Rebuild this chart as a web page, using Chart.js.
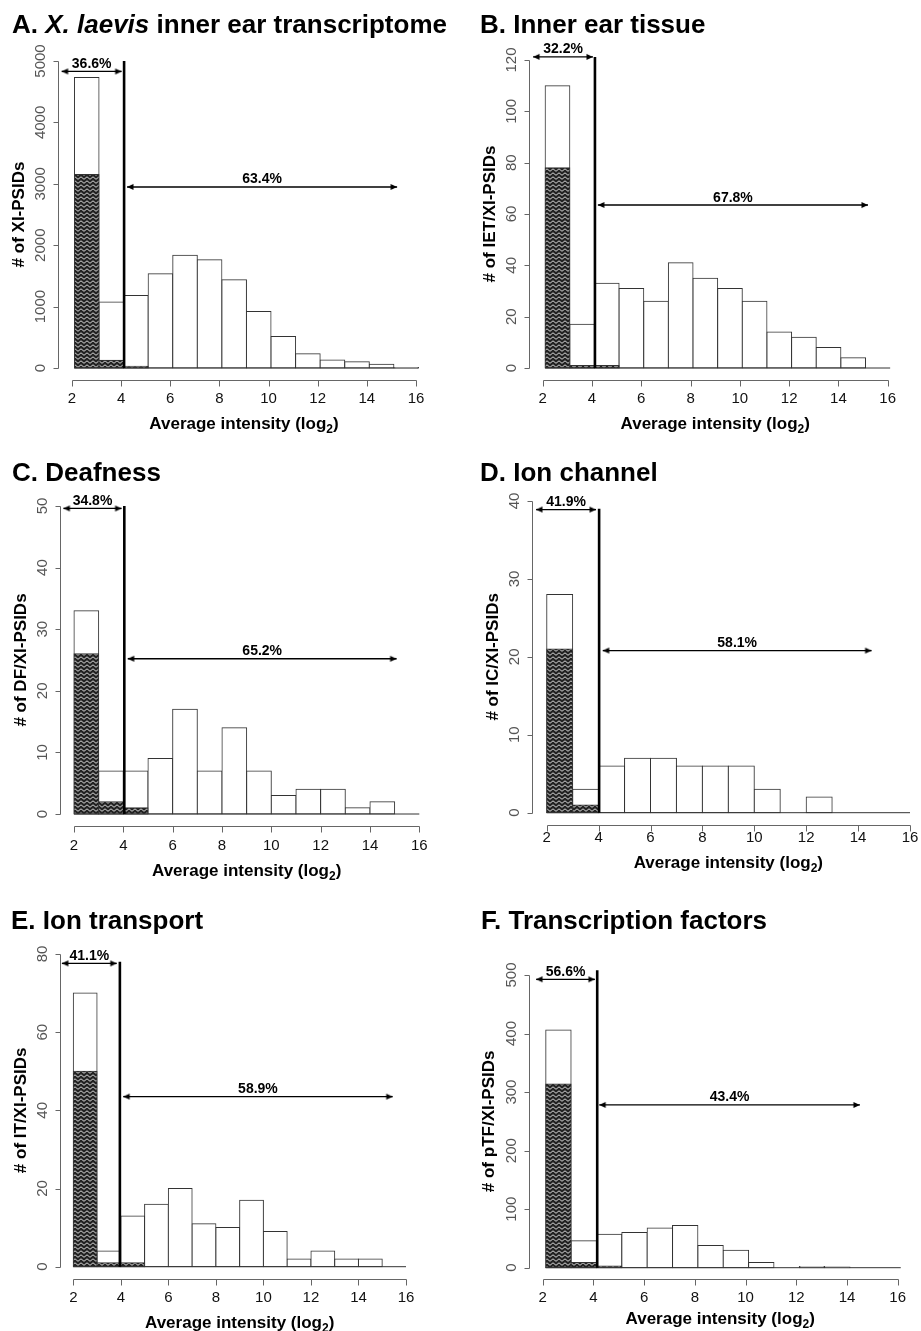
<!DOCTYPE html>
<html><head><meta charset="utf-8">
<script src="https://cdn.jsdelivr.net/npm/chart.js@4"></script>
<style>
html,body{margin:0;padding:0;background:#fff;overflow:hidden;width:921px;height:1331px;position:relative}
canvas{position:absolute}
</style></head><body>
<canvas id="cA"></canvas><canvas id="cB"></canvas>
<canvas id="cC"></canvas><canvas id="cD"></canvas>
<canvas id="cE"></canvas><canvas id="cF"></canvas>
<script>
// ---------- data ----------
const bins = [2,3,4,5,6,7,8,9,10,11,12,13,14,15];   // lower bin edges (log2 intensity)
const xTicks = [2,4,6,8,10,12,14,16];

const titleA = [["A. ",0],["X. laevis",1],[" inner ear transcriptome",0]];
const ylabA = "# of XI-PSIDs";
const totalA = [4730,1075,1180,1535,1838,1762,1437,922,515,233,130,103,60,10];
const hatchA = [3150,125,27,0,0,0,0,0,0,0,0,0,0,0];
const yTicksA = [0,1000,2000,3000,4000,5000];
const pctA = ["36.6%","63.4%"];
const cutA = [4.12,5000];
const arrowsA = [[1.58,4.02,4830],[4.24,15.23,2948]];
const shiftA = 0.1;

const titleB = [["B. Inner ear tissue",0]];
const ylabB = "# of IET/XI-PSIDs";
const totalB = [110,17,33,31,26,41,35,31,26,14,12,8,4,0];
const hatchB = [78,1,1,0,0,0,0,0,0,0,0,0,0,0];
const yTicksB = [0,20,40,60,80,100,120];
const pctB = ["32.2%","67.8%"];
const cutB = [4.12,121.2];
const arrowsB = [[1.61,4.04,121.2],[4.24,15.2,63.5]];
const shiftB = 0.1;

const titleC = [["C. Deafness",0]];
const ylabC = "# of DF/XI-PSIDs";
const totalC = [33,7,7,9,17,7,14,7,3,4,4,1,2,0];
const hatchC = [26,2,1,0,0,0,0,0,0,0,0,0,0,0];
const yTicksC = [0,10,20,30,40,50];
const pctC = ["34.8%","65.2%"];
const cutC = [4.04,50];
const arrowsC = [[1.57,3.93,49.6],[4.18,15.08,25.2]];
const shiftC = 0;

const titleD = [["D. Ion channel",0]];
const ylabD = "# of IC/XI-PSIDs";
const totalD = [28,3,6,7,7,6,6,6,3,0,2,0,0,0];
const hatchD = [21,1,0,0,0,0,0,0,0,0,0,0,0,0];
const yTicksD = [0,10,20,30,40];
const pctD = ["41.9%","58.1%"];
const cutD = [4.02,39];
const arrowsD = [[1.59,3.9,38.9],[4.16,14.52,20.8]];
const shiftD = 0;

const titleE = [["E. Ion transport",0]];
const ylabE = "# of IT/XI-PSIDs";
const totalE = [70,4,13,16,20,11,10,17,9,2,4,2,2,0];
const hatchE = [50,1,1,0,0,0,0,0,0,0,0,0,0,0];
const yTicksE = [0,20,40,60,80];
const pctE = ["41.1%","58.9%"];
const cutE = [3.96,78];
const arrowsE = [[1.52,3.83,77.6],[4.1,15.44,43.5]];
const shiftE = 0;

const titleF = [["F. Transcription factors",0]];
const ylabF = "# of pTF/XI-PSIDs";
const totalF = [406,46,57,60,68,72,38,30,9,0,2,1,0,0];
const hatchF = [314,9,3,0,0,0,0,0,0,0,0,0,0,0];
const yTicksF = [0,100,200,300,400,500];
const pctF = ["56.6%","43.4%"];
const cutF = [4.15,508];
const arrowsF = [[1.74,4.06,492.6],[4.23,14.51,278]];
const shiftF = 0.12;

// ---------- layout (pixels) ----------
const FONT = '"Liberation Sans", Arial, Helvetica, sans-serif';
const panels = [
 {id:'cA',left:0,top:0,w:460,h:440,tx:12,ty:32.5,x2:72,x16:416,y0:368,yM:61,xLab:19,xTit:43,
  title:titleA,ylab:ylabA,total:totalA,hatch:hatchA,yTicks:yTicksA,pct:pctA,cut:cutA,arrows:arrowsA,shift:shiftA},
 {id:'cB',left:460,top:0,w:470,h:440,tx:480,ty:32.5,x2:542.7,x16:887.7,y0:368,yM:60,xLab:19,xTit:43,
  title:titleB,ylab:ylabB,total:totalB,hatch:hatchB,yTicks:yTicksB,pct:pctB,cut:cutB,arrows:arrowsB,shift:shiftB},
 {id:'cC',left:0,top:440,w:460,h:450,tx:12,ty:480.5,x2:74,x16:419.3,y0:814,yM:506,xLab:19.7,xTit:43.7,
  title:titleC,ylab:ylabC,total:totalC,hatch:hatchC,yTicks:yTicksC,pct:pctC,cut:cutC,arrows:arrowsC,shift:shiftC},
 {id:'cD',left:460,top:440,w:470,h:450,tx:480,ty:480.5,x2:546.7,x16:910,y0:812.7,yM:501,xLab:13,xTit:37,
  title:titleD,ylab:ylabD,total:totalD,hatch:hatchD,yTicks:yTicksD,pct:pctD,cut:cutD,arrows:arrowsD,shift:shiftD},
 {id:'cE',left:0,top:890,w:460,h:441,tx:11,ty:929,x2:73.3,x16:406,y0:1266.7,yM:954,xLab:19,xTit:43,
  title:titleE,ylab:ylabE,total:totalE,hatch:hatchE,yTicks:yTicksE,pct:pctE,cut:cutE,arrows:arrowsE,shift:shiftE},
 {id:'cF',left:460,top:890,w:470,h:441,tx:481,ty:929,x2:542.7,x16:897.7,y0:1267.7,yM:975,xLab:18.6,xTit:38.6,
  title:titleF,ylab:ylabF,total:totalF,hatch:hatchF,yTicks:yTicksF,pct:pctF,cut:cutF,arrows:arrowsF,shift:shiftF}
];

function makeTile(){
  const c=document.createElement('canvas'); c.width=6; c.height=4;
  const g=c.getContext('2d');
  g.fillStyle='#222'; g.fillRect(0,0,6,4);
  g.strokeStyle='rgba(255,255,255,0.9)'; g.lineWidth=0.9;
  g.beginPath(); g.moveTo(0,3.3); g.lineTo(3,0.8); g.lineTo(6,3.3); g.stroke();
  return c;
}
function makeHead(){
  const c=document.createElement('canvas'); c.width=16; c.height=8;
  const g=c.getContext('2d'); g.fillStyle='#000';
  g.beginPath(); g.moveTo(8,4); g.lineTo(1.5,1); g.lineTo(1.5,7); g.closePath(); g.fill();
  return c;
}
const tile = makeTile();
const head = makeHead();

function axesPlugin(p){
  const ymax = p.yTicks[p.yTicks.length-1];
  return {id:'raxes', afterDraw(chart){
    const g=chart.ctx, xs=chart.scales.x, ys=chart.scales.y, a=chart.chartArea;
    g.save();
    // panel title
    g.fillStyle='#000'; g.textAlign='left'; g.textBaseline='alphabetic';
    let tx=p.tx-p.left;
    for(const [t,it] of p.title){
      g.font=(it?'italic ':'')+'bold 26px '+FONT;
      g.fillText(t,tx,p.ty-p.top); tx+=g.measureText(t).width;
    }
    // axes lines + ticks
    g.strokeStyle='#666'; g.lineWidth=1; g.beginPath();
    const yb=Math.round(a.bottom)+0.5;
    g.moveTo(Math.round(xs.getPixelForValue(xTicks[0]))+0.5,yb);
    g.lineTo(Math.round(xs.getPixelForValue(xTicks[xTicks.length-1]))+0.5,yb);
    for(const t of xTicks){const px=Math.round(xs.getPixelForValue(t))+0.5; g.moveTo(px,yb); g.lineTo(px,yb+6);}
    const xl=Math.round(a.left)+0.5;
    g.moveTo(xl,Math.round(ys.getPixelForValue(p.yTicks[0]))+0.5);
    g.lineTo(xl,Math.round(ys.getPixelForValue(ymax))+0.5);
    for(const t of p.yTicks){const py=Math.round(ys.getPixelForValue(t))+0.5; g.moveTo(xl,py); g.lineTo(xl-5,py);}
    g.stroke();
    // x tick labels
    g.font='15px '+FONT; g.fillStyle='#111'; g.textAlign='center'; g.textBaseline='middle';
    for(const t of xTicks) g.fillText(String(t), xs.getPixelForValue(t), a.bottom+p.xLab);
    // y tick labels (rotated)
    g.fillStyle='#555';
    for(const t of p.yTicks){
      g.save(); g.translate(a.left-17, ys.getPixelForValue(t)); g.rotate(-Math.PI/2);
      g.fillText(String(t),0,0); g.restore();
    }
    // x title with subscript
    g.fillStyle='#000'; g.textAlign='left'; g.textBaseline='alphabetic';
    const s1='Average intensity (log', s2='2', s3=')';
    g.font='bold 17px '+FONT; const w1=g.measureText(s1).width, w3=g.measureText(s3).width;
    g.font='bold 12px '+FONT; const w2=g.measureText(s2).width;
    const cx=(xs.getPixelForValue(2)+xs.getPixelForValue(16))/2;
    let x0=cx-(w1+w2+w3)/2; const bl=a.bottom+p.xTit+6;
    g.font='bold 17px '+FONT; g.fillText(s1,x0,bl);
    g.font='bold 12px '+FONT; g.fillText(s2,x0+w1,bl+4);
    g.font='bold 17px '+FONT; g.fillText(s3,x0+w1+w2,bl);
    // y title
    g.textAlign='center'; g.textBaseline='middle';
    g.save(); g.translate(a.left-39, ys.getPixelForValue(ymax/2)); g.rotate(-Math.PI/2);
    g.fillText(p.ylab,0,0); g.restore();
    // percentage labels
    g.font='bold 14px '+FONT; g.textBaseline='alphabetic';
    p.arrows.forEach((ar,i)=>{
      const c=(xs.getPixelForValue(ar[0])+xs.getPixelForValue(ar[1]))/2;
      g.fillText(p.pct[i], c, ys.getPixelForValue(ar[2])-3.5);
    });
    g.restore();
  }};
}

function makeChart(p){
  const cv=document.getElementById(p.id);
  cv.width=p.w; cv.height=p.h;
  cv.style.left=p.left+'px'; cv.style.top=p.top+'px';
  const unit=(p.x16-p.x2)/14;
  const ymax=p.yTicks[p.yTicks.length-1];
  const span=p.y0-p.yM;
  const plotL=p.x2-0.56*unit-p.left, plotR=p.x16+0.56*unit-p.left;
  const plotT=p.yM-0.04*span-p.top, plotB=p.y0+0.04*span-p.top;
  const pattern=cv.getContext('2d').createPattern(tile,'repeat');
  const pts=(vals)=>vals.map((v,i)=>({x:bins[i]+p.shift+0.5,y:v}));
  const barOpts={type:'bar',borderColor:'#333',borderWidth:1,borderSkipped:false,inflateAmount:0.5,
                 barPercentage:1,categoryPercentage:1,grouped:false};
  const first=bins[0]+p.shift, last=bins[bins.length-1]+1+p.shift;
  new Chart(cv,{
    type:'bar',
    data:{datasets:[
      Object.assign({data:pts(p.total),backgroundColor:'#fff',order:5},barOpts),
      Object.assign({data:pts(p.hatch),backgroundColor:pattern,order:4},barOpts),
      {type:'line',data:[{x:first,y:0},{x:last,y:0}],borderColor:'#333',borderWidth:1,pointRadius:0,order:3,clip:false},
      {type:'line',data:[{x:p.cut[0],y:0},{x:p.cut[0],y:p.cut[1]}],borderColor:'#000',borderWidth:2.6,pointRadius:0,order:2,clip:false},
      ...p.arrows.map(ar=>({type:'line',data:[{x:ar[0],y:ar[2]},{x:ar[1],y:ar[2]}],borderColor:'#000',borderWidth:1.3,
        pointStyle:head,pointRotation:[180,0],pointRadius:4,order:1,clip:false}))
    ]},
    options:{
      responsive:false,animation:false,events:[],
      layout:{padding:{left:plotL,right:p.w-plotR,top:plotT,bottom:p.h-plotB}},
      plugins:{legend:{display:false},tooltip:{enabled:false},title:{display:false}},
      scales:{
        x:{type:'linear',min:2-0.04*14,max:16+0.04*14,display:false,offset:false,ticks:{stepSize:1,includeBounds:false}},
        y:{type:'linear',min:-0.04*ymax,max:1.04*ymax,display:false}
      }
    },
    plugins:[axesPlugin(p)]
  });
}
panels.forEach(makeChart);
</script>
</body></html>
